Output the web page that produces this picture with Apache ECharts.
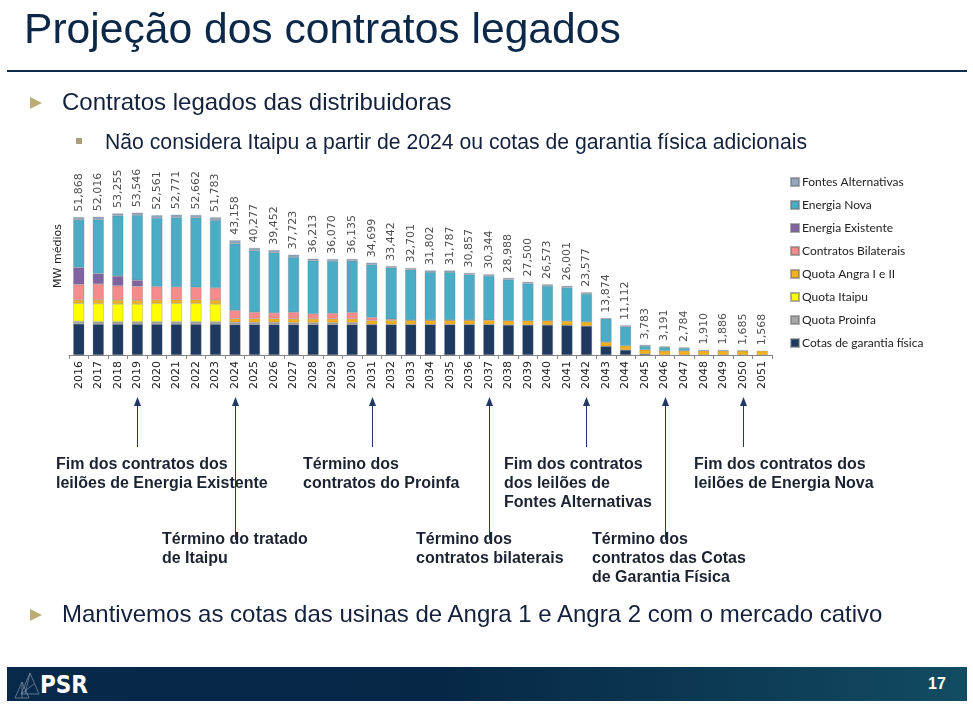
<!DOCTYPE html>
<html>
<head>
<meta charset="utf-8">
<script src="https://cdn.jsdelivr.net/npm/echarts@6/dist/echarts.min.js"></script>
<style>
  html, body { margin:0; padding:0; background:#fff; }
  #wrap { position:relative; width:973px; height:706px; overflow:hidden; background:#fff; font-family:"Liberation Sans", Arial, sans-serif; }
  #chart { position:absolute; left:0; top:0; width:973px; height:706px; }
  .t { position:absolute; white-space:nowrap; color:#14213d; }
  .ann { position:absolute; white-space:nowrap; font-family:"Liberation Sans", Arial, sans-serif; font-weight:bold; font-size:16px; line-height:19px; color:#1b2230; }
</style>
</head>
<body>
<div id="wrap">
  <div id="chart"></div>
  <div class="t" style="left:24px;top:4px;font-size:42.6px;line-height:48px;color:#0c2849;">Projeção dos contratos legados</div>
  <div style="position:absolute;left:7px;top:70px;width:960px;height:2px;background:#0d2b4b;"></div>
  <svg style="position:absolute;left:29px;top:96px;" width="14" height="14"><polygon points="1,1 13,7 1,13" fill="#bcae72"/></svg>
  <div class="t" style="left:62px;top:88px;font-size:24px;line-height:28px;">Contratos legados das distribuidoras</div>
  <div style="position:absolute;left:76px;top:138px;width:6px;height:6px;background:#a99f7c;"></div>
  <div class="t" style="left:105px;top:129px;font-size:21.2px;line-height:25px;">Não considera Itaipu a partir de 2024 ou cotas de garantia física adicionais</div>

  <div class="ann" style="left:56px;top:454px;">Fim dos contratos dos<br>leilões de Energia Existente</div>
  <div class="ann" style="left:303px;top:454px;">Término dos<br>contratos do Proinfa</div>
  <div class="ann" style="left:504px;top:454px;">Fim dos contratos<br>dos leilões de<br>Fontes Alternativas</div>
  <div class="ann" style="left:694px;top:454px;">Fim dos contratos dos<br>leilões de Energia Nova</div>
  <div class="ann" style="left:162px;top:529px;">Término do tratado<br>de Itaipu</div>
  <div class="ann" style="left:416px;top:529px;">Término dos<br>contratos bilaterais</div>
  <div class="ann" style="left:592px;top:529px;">Término dos<br>contratos das Cotas<br>de Garantia Física</div>

  <svg style="position:absolute;left:29px;top:608px;" width="14" height="14"><polygon points="1,1 13,7 1,13" fill="#bcae72"/></svg>
  <div class="t" style="left:62px;top:600px;font-size:24px;line-height:28px;">Mantivemos as cotas das usinas de Angra 1 e Angra 2 com o mercado cativo</div>

  <div style="position:absolute;left:7px;top:667px;width:960px;height:34px;background:linear-gradient(90deg,#08294a 0%,#062746 45%,#0b3751 70%,#124c62 100%);"></div>
  <svg style="position:absolute;left:12px;top:670px;" width="30" height="30" viewBox="0 0 30 30">
    <g stroke="#7f93a8" stroke-width="0.7" fill="none">
      <polygon points="18,3 27,24 9,24"/>
      <polygon points="10,12 17,28 3,28"/>
      <line x1="18" y1="3" x2="13" y2="24"/>
      <line x1="9" y1="24" x2="22" y2="14"/>
      <line x1="10" y1="12" x2="10" y2="28"/>
    </g>
  </svg>
  <div class="t" style="left:40px;top:671px;font-size:24px;line-height:28px;color:#fff;font-family:'DejaVu Sans Condensed','Liberation Sans Narrow',sans-serif;font-weight:bold;">PSR</div>
  <div class="t" style="left:928px;top:674px;font-size:16px;line-height:20px;color:#fff;font-weight:bold;">17</div>
</div>
<script>
// ---- data (MW médios) ----
var years = ['2016','2017','2018','2019','2020','2021','2022','2023','2024','2025','2026','2027','2028','2029','2030','2031','2032','2033','2034','2035','2036','2037','2038','2039','2040','2041','2042','2043','2044','2045','2046','2047','2048','2049','2050','2051'];
var totals = [51868,52016,53255,53546,52561,52771,52662,51783,43158,40277,39452,37723,36213,36070,36135,34699,33442,32701,31802,31787,30857,30344,28988,27500,26573,26001,23577,13874,11112,3783,3191,2784,1910,1886,1685,1568];
var cotasGarantia = [11700,11600,11600,11600,11600,11600,11600,11600,11500,11500,11500,11500,11500,11500,11500,11500,11500,11500,11500,11500,11500,11500,11300,11300,11300,11200,10900,3300,1900,400,0,0,0,0,0,0];
var quotaProinfa = [950,950,950,950,950,950,950,950,800,800,800,700,700,700,700,0,0,0,0,0,0,0,0,0,0,0,0,0,0,0,0,0,0,0,0,0];
var quotaItaipu = [6800,6780,6650,6650,6900,6900,6900,6650,0,0,0,0,0,0,0,0,0,0,0,0,0,0,0,0,0,0,0,0,0,0,0,0,0,0,0,0];
var quotaAngra = [1300,1400,1450,1400,1300,1350,1350,1450,1400,1400,1400,1400,1400,1400,1400,1500,1550,1550,1550,1550,1550,1550,1568,1568,1568,1568,1568,1568,1568,1568,1568,1568,1568,1568,1568,1568];
var bilaterais = [5800,6000,5400,5270,5000,4800,4700,4600,3100,2400,2100,2500,1900,2100,2400,1100,400,100,100,100,100,0,0,0,0,0,0,0,0,0,0,0,0,0,0,0];
var energiaExistente = [6400,3900,3640,2260,0,0,0,0,0,0,0,0,0,0,0,0,0,0,0,0,0,0,0,0,0,0,0,0,0,0,0,0,0,0,0,0];
var energiaNova = [17918,20386,22765,24536,25811,26171,26162,25533,25158,23177,22752,20743,20013,19670,19435,19899,19392,18951,18052,18037,17107,16694,15520,14032,13105,12633,10509,8756,7264,1415,1423,1016,0,0,0,0];
var fontesAlternativas = [1000,1000,800,880,1000,1000,1000,1000,1200,1000,900,880,700,700,700,700,600,600,600,600,600,600,600,600,600,600,600,250,380,400,200,200,342,318,117,0];
var legendOrder = ['Fontes Alternativas','Energia Nova','Energia Existente','Contratos Bilaterais','Quota Angra I e II','Quota Itaipu','Quota Proinfa','Cotas de garantia física'];

var stackDefs = [
  ['Cotas de garantia física', cotasGarantia, '#1F3A60'],
  ['Quota Proinfa', quotaProinfa, '#A6A6A6'],
  ['Quota Itaipu', quotaItaipu, '#FFFF00'],
  ['Quota Angra I e II', quotaAngra, '#F2B01E'],
  ['Contratos Bilaterais', bilaterais, '#F58B8B'],
  ['Energia Existente', energiaExistente, '#8064A2'],
  ['Energia Nova', energiaNova, '#4BACC6'],
  ['Fontes Alternativas', fontesAlternativas, '#93A5BF']
];

var chart = echarts.init(document.getElementById('chart'), null, {renderer:'canvas'});
var series = stackDefs.map(function(d){
  return {
    name: d[0], type:'bar', stack:'total', barWidth:11,
    data: d[1].map(function(v){ return v === 0 ? null : v; }),
    itemStyle:{ color:d[2], borderColor:'rgba(110,110,110,0.55)', borderWidth:0.5 },
    silent:true
  };
});
series.push({
  name:'Total', type:'scatter', data: totals, symbolSize:1,
  itemStyle:{ color:'rgba(0,0,0,0)' }, silent:true,
  label:{ show:true, position:'top', distance:5, rotate:90, align:'left', verticalAlign:'middle',
    fontFamily:'DejaVu Sans', fontSize:11, color:'#222',
    formatter:function(p){ return p.value.toLocaleString('en-US'); } }
});

chart.setOption({
  animation:false,
  backgroundColor:'transparent',
  grid:{ left:69, right:201, top:169, bottom:351 },
  legend:{
    data: legendOrder, orient:'vertical', left:785, top:171, itemWidth:8, itemHeight:8, itemGap:11,
    icon:'rect', textStyle:{ fontFamily:'Lato', fontSize:12, color:'#222', padding:[0,0,0,-2] }, selectedMode:false
  },
  xAxis:{
    type:'category', data: years,
    axisLine:{ lineStyle:{ color:'#868686', width:1 } },
    axisTick:{ show:true, length:4, lineStyle:{ color:'#868686' } },
    axisLabel:{ rotate:90, margin:6, fontFamily:'DejaVu Sans', fontSize:11, color:'#222' }
  },
  yAxis:{ type:'value', min:0, max:70000, show:false },
  series: series
});

// annotation arrows positioned on categories
var arrows = [['2019',447],['2024',540],['2031',447],['2037',540],['2042',447],['2046',540],['2050',447]];
var g = [{
  type:'text', x:58, y:256, rotation:Math.PI/2,
  style:{ text:'MW médios', fontFamily:'DejaVu Sans', fontSize:11, fill:'#222', align:'center', verticalAlign:'middle' }
}];
arrows.forEach(function(a){
  var x = Math.round(chart.convertToPixel({xAxisIndex:0}, a[0])) + 0.5;
  g.push({ type:'line', shape:{ x1:x, y1:404, x2:x, y2:a[1] }, style:{ stroke:'#1F3864', lineWidth:1 }, silent:true });
  g.push({ type:'polygon', shape:{ points:[[x,397],[x-3.5,406],[x+3.5,406]] }, style:{ fill:'#1F3864' }, silent:true });
});
chart.setOption({ graphic: g });
</script>
</body>
</html>
